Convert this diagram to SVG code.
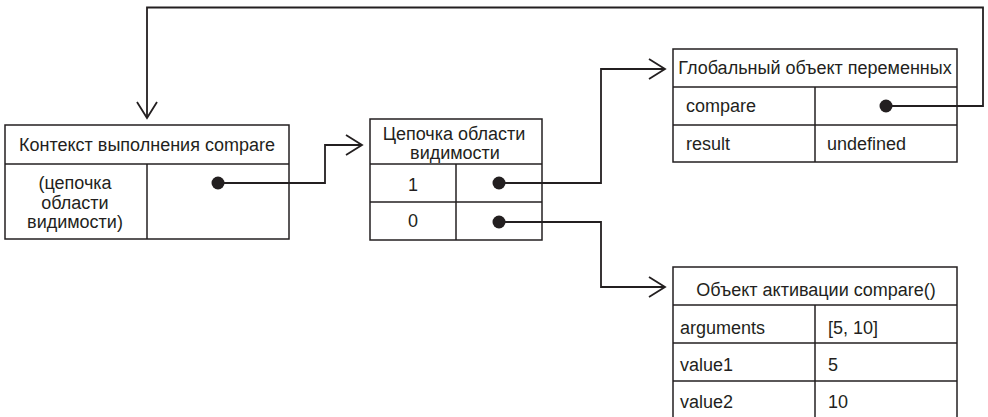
<svg xmlns="http://www.w3.org/2000/svg" width="988" height="417" viewBox="0 0 988 417">
<defs>
<style>
.box{fill:#fff;stroke:#231f20;stroke-width:1.5}
.ln{fill:none;stroke:#231f20;stroke-width:1.5}
.conn{fill:none;stroke:#231f20;stroke-width:1.8}
.t{font-family:"Liberation Sans",Arial,sans-serif;font-size:18px;fill:#231f20}
.c{text-anchor:middle}
.dot{fill:#231f20}
</style>
<marker id="arr" viewBox="0 0 20 24" refX="18" refY="12" markerWidth="20" markerHeight="24" markerUnits="userSpaceOnUse" orient="auto">
<path d="M2,2 L18,12 L2,22" fill="none" stroke="#231f20" stroke-width="1.8"/>
</marker>
</defs>
<rect width="988" height="417" fill="#fff"/>

<g id="context">
<rect class="box" x="5" y="125" width="284" height="114"/>
<line class="ln" x1="5" y1="164" x2="289" y2="164"/>
<line class="ln" x1="147" y1="164" x2="147" y2="239"/>
<text class="t c" x="147" y="151">Контекст выполнения compare</text>
<text class="t c" x="75" y="189">(цепочка</text>
<text class="t c" x="75" y="208.5">области</text>
<text class="t c" x="75" y="228">видимости)</text>
</g>

<g id="scopechain">
<rect class="box" x="370" y="119" width="172" height="121"/>
<line class="ln" x1="370" y1="164" x2="542" y2="164"/>
<line class="ln" x1="370" y1="202" x2="542" y2="202"/>
<line class="ln" x1="456" y1="164" x2="456" y2="240"/>
<text class="t c" x="454" y="139.5">Цепочка области</text>
<text class="t c" x="455" y="158.5">видимости</text>
<text class="t c" x="413" y="191">1</text>
<text class="t c" x="413" y="227">0</text>
</g>

<g id="global">
<rect class="box" x="673" y="49" width="284" height="113"/>
<line class="ln" x1="673" y1="87" x2="957" y2="87"/>
<line class="ln" x1="673" y1="125" x2="957" y2="125"/>
<line class="ln" x1="815" y1="87" x2="815" y2="162"/>
<text class="t c" x="815" y="74">Глобальный объект переменных</text>
<text class="t" x="686" y="112">compare</text>
<text class="t" x="686" y="150">result</text>
<text class="t" x="827" y="150">undefined</text>
</g>

<g id="activation">
<rect class="box" x="673" y="267" width="284" height="160"/>
<line class="ln" x1="673" y1="305" x2="957" y2="305"/>
<line class="ln" x1="673" y1="343" x2="957" y2="343"/>
<line class="ln" x1="673" y1="381" x2="957" y2="381"/>
<line class="ln" x1="815" y1="305" x2="815" y2="427"/>
<text class="t c" x="816" y="296">Объект активации compare()</text>
<text class="t" x="680" y="333.5">arguments</text>
<text class="t" x="828" y="333.5">[5, 10]</text>
<text class="t" x="680" y="371">value1</text>
<text class="t" x="828" y="371">5</text>
<text class="t" x="680" y="408">value2</text>
<text class="t" x="828" y="408">10</text>
</g>

<g id="connectors">
<circle class="dot" cx="218" cy="183" r="6.5"/>
<path class="conn" d="M218,183 H325 V145 H362" marker-end="url(#arr)"/>
<circle class="dot" cx="499" cy="183" r="6.5"/>
<path class="conn" d="M499,183 H601 V69 H665" marker-end="url(#arr)"/>
<circle class="dot" cx="499" cy="222" r="6.5"/>
<path class="conn" d="M499,222 H601 V287 H665" marker-end="url(#arr)"/>
<circle class="dot" cx="886" cy="106" r="6.5"/>
<path class="conn" d="M886,106 H983 V7.5 H147 V118" marker-end="url(#arr)"/>
</g>
</svg>
